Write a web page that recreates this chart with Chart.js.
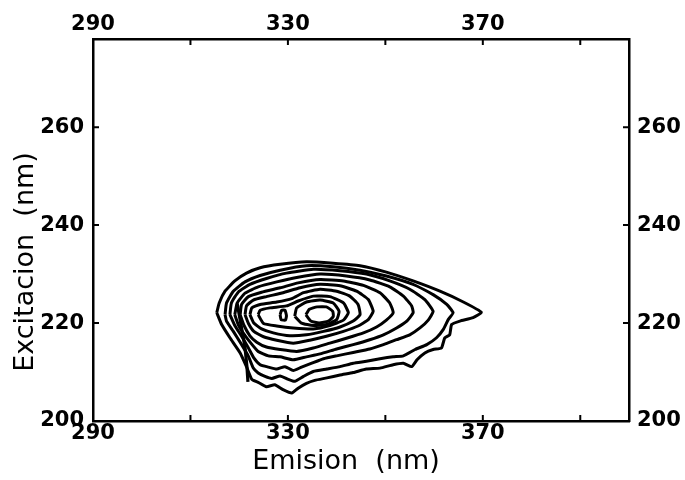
<!DOCTYPE html>
<html>
<head>
<meta charset="utf-8">
<script src="https://cdn.jsdelivr.net/npm/chart.js@4.4.0/dist/chart.umd.min.js"></script>
<style>
  html, body { margin: 0; padding: 0; background: #fff; }
  #wrap { width: 685px; height: 480px; }
</style>
</head>
<body>
<div id="wrap"><canvas id="chart" width="685" height="480"></canvas></div>
<script>
// ---- axes ----
const xTicks = [290, 310, 330, 350, 370, 390];
const xLabels = [290, 330, 370];
const yTicks = [200, 220, 240, 260];
const yLabels = [200, 220, 240, 260];
const xTitle = 'Emision  (nm)';
const yTitle = 'Excitacion  (nm)';

// ---- contour lines (emision, excitacion), outer to inner ----
const contour1 = [[315.4,222.1],[315.9,224.1],[317.1,226.5],[319.1,228.6],[321.5,230.2],[324.3,231.3],[328.4,232.0],[333.8,232.5],[339.3,232.2],[344.8,231.7],[350.2,230.4],[355.7,228.6],[361.2,226.5],[366.0,224.3],[369.7,222.2],[368.0,221.1],[365.3,220.4],[363.6,219.7],[363.2,217.6],[362.2,217.0],[361.5,214.9],[359.8,214.6],[358.1,213.9],[356.5,212.5],[355.4,211.1],[353.7,211.8],[351.6,211.5],[348.9,210.8],[346.1,210.6],[343.4,209.9],[340.7,209.4],[338.0,208.8],[335.5,208.3],[333.8,207.7],[332.1,206.7],[330.8,205.7],[329.0,206.4],[327.3,207.4],[325.6,207.0],[323.9,207.9],[322.6,208.5],[321.5,211.1],[320.2,213.9],[318.1,217.0],[316.4,219.7]];
const contour2 = [[317.1,221.7],[317.4,224.1],[318.8,226.5],[321.2,228.4],[324.3,229.7],[328.4,230.8],[333.8,231.7],[339.3,231.5],[344.8,230.8],[350.2,229.6],[355.7,227.9],[359.8,225.8],[362.6,223.8],[363.9,222.1],[362.9,220.7],[361.9,218.7],[360.5,217.0],[358.5,215.6],[356.1,214.6],[353.7,213.3],[351.6,213.1],[348.9,212.7],[346.1,212.2],[343.4,211.8],[340.7,211.1],[338.0,210.6],[335.2,210.1],[333.2,209.1],[331.4,208.1],[330.1,208.5],[328.4,209.2],[326.7,208.7],[325.3,209.1],[323.9,209.8],[322.9,210.8],[321.9,213.2],[320.5,215.6],[318.8,218.3],[317.4,220.4]];
const contour3 = [[318.1,221.7],[318.4,224.1],[319.8,226.3],[322.2,227.9],[325.6,229.1],[329.7,230.2],[335.2,231.0],[340.7,230.7],[346.1,230.0],[350.9,228.6],[355.0,226.9],[358.1,224.8],[359.8,222.4],[358.8,220.6],[357.1,219.0],[355.0,217.6],[352.3,216.6],[349.6,215.6],[346.8,214.7],[343.4,214.0],[340.0,213.3],[337.3,212.7],[334.9,211.8],[332.8,211.0],[331.1,210.3],[329.4,211.1],[327.7,210.6],[326.0,211.0],[324.3,211.5],[323.0,212.9],[321.9,214.9],[320.5,217.3],[319.1,219.5]];
const contour4 = [[319.1,221.7],[319.6,224.1],[321.2,226.1],[323.9,227.4],[327.7,228.4],[331.8,229.3],[336.6,230.0],[342.0,229.6],[346.8,228.8],[350.9,227.4],[353.7,225.5],[355.4,223.5],[355.7,222.1],[354.4,220.4],[352.3,219.0],[349.6,217.6],[346.8,216.6],[343.4,215.6],[340.0,214.7],[336.6,213.7],[333.8,213.1],[331.1,212.5],[328.4,213.1],[326.0,213.3],[323.9,214.2],[322.4,215.9],[320.8,218.0],[319.8,219.7]];
const contour5 = [[320.2,221.7],[320.5,223.8],[321.9,225.4],[324.6,226.3],[328.4,227.2],[332.1,228.2],[336.6,228.9],[341.4,228.6],[345.5,227.7],[348.9,226.2],[350.9,224.1],[351.6,222.1],[350.2,220.6],[348.2,219.2],[345.5,218.0],[342.0,216.9],[338.6,215.9],[335.2,214.9],[331.8,214.2],[328.4,214.6],[325.6,215.1],[323.6,216.1],[322.2,217.4],[321.0,219.5]];
const contour6 = [[321.2,221.7],[321.5,223.5],[322.9,224.7],[325.6,225.4],[329.0,226.2],[332.5,227.2],[336.6,227.9],[340.7,227.6],[344.1,226.5],[346.5,224.8],[347.5,222.4],[346.5,220.7],[344.4,219.4],[341.4,218.3],[337.9,217.3],[334.5,216.5],[331.1,215.9],[327.7,216.5],[325.0,217.2],[323.0,218.3],[321.9,219.9]];
const contour7 = [[322.2,221.7],[322.6,223.1],[324.3,223.8],[327.7,224.3],[330.8,225.0],[333.2,226.2],[336.6,226.9],[340.0,226.5],[342.7,225.5],[344.4,223.8],[344.8,221.7],[343.4,220.4],[340.7,219.2],[337.3,218.3],[333.8,217.6],[330.4,217.4],[327.0,218.0],[324.6,218.8],[323.0,220.0]];
const contour8 = [[323.9,221.7],[324.3,222.6],[326.3,223.1],[329.7,223.5],[332.1,224.5],[335.2,225.5],[338.6,225.4],[341.4,224.1],[342.4,222.1],[341.4,220.6],[338.6,219.5],[335.2,218.8],[331.1,219.0],[327.7,219.4],[325.0,219.9]];
const contour9 = [[331.4,221.4],[331.8,223.1],[333.8,224.3],[336.6,224.7],[339.3,224.1],[340.5,222.4],[340.0,220.7],[337.9,219.7],[335.2,219.5],[332.8,220.0]];
const contour10 = [[333.7,221.7],[334.4,222.8],[336.0,223.3],[337.9,223.3],[339.2,222.4],[339.3,221.3],[338.3,220.4],[336.4,220.0],[334.7,220.4]];
const blob = [[328.4,221.7],[328.7,222.6],[329.4,222.6],[329.7,221.5],[329.5,220.6],[328.6,220.7]];
const scatterLine = [[319.6,224.0],[320.4,219.5],[321.2,215.0],[321.6,211.0],[321.8,208.0]];

const closedContours = [contour1, contour2, contour3, contour4, contour5, contour6, contour7, contour8, contour9, contour10, blob];

function toPoints(arr, close) {
  const pts = arr.map(p => ({ x: p[0], y: p[1] }));
  if (close) pts.push({ x: arr[0][0], y: arr[0][1] });
  return pts;
}

const datasets = closedContours.map(c => ({
  data: toPoints(c, true),
  showLine: true,
  borderColor: '#000',
  borderWidth: 3,
  borderJoinStyle: 'round',
  pointRadius: 0,
  tension: 0.15,
  fill: false
}));
datasets.push({
  data: toPoints(scatterLine, false),
  showLine: true,
  borderColor: '#000',
  borderWidth: 3.2,
  pointRadius: 0,
  tension: 0,
  fill: false
});

const tickFont = { family: 'DejaVu Sans', size: 21, weight: 'bold' };

// inward tick marks + axis titles
const frameExtras = {
  id: 'frameExtras',
  afterDraw(chart) {
    const { ctx, chartArea: a, scales } = chart;
    ctx.save();
    ctx.strokeStyle = '#000';
    ctx.lineWidth = 2;
    xTicks.forEach(v => {
      const px = scales.x.getPixelForValue(v);
      ctx.beginPath();
      ctx.moveTo(px, a.bottom); ctx.lineTo(px, a.bottom - 6);
      ctx.moveTo(px, a.top); ctx.lineTo(px, a.top + 6);
      ctx.stroke();
    });
    yTicks.forEach(v => {
      const py = scales.y.getPixelForValue(v);
      ctx.beginPath();
      ctx.moveTo(a.left, py); ctx.lineTo(a.left + 6, py);
      ctx.moveTo(a.right, py); ctx.lineTo(a.right - 6, py);
      ctx.stroke();
    });

    ctx.fillStyle = '#000';
    ctx.font = '27px "DejaVu Sans"';
    ctx.textAlign = 'center';
    ctx.textBaseline = 'alphabetic';
    ctx.fillText(xTitle, 346, 469);
    ctx.translate(33, 262);
    ctx.rotate(-Math.PI / 2);
    ctx.fillText(yTitle, 0, 0);
    ctx.restore();
  }
};

function setTicks(list) {
  return function(scale) { scale.ticks = list.map(v => ({ value: v })); };
}

new Chart(document.getElementById('chart'), {
  type: 'scatter',
  data: { datasets: datasets },
  options: {
    responsive: false,
    animation: false,
    events: [],
    layout: { padding: 0 },
    plugins: { legend: { display: false }, tooltip: { enabled: false } },
    scales: {
      x: {
        type: 'linear', position: 'bottom', min: 290, max: 400,
        afterBuildTicks: setTicks(xTicks),
        afterFit: s => { s.height = 59; },
        grid: { display: false, drawTicks: false },
        border: { display: true, color: '#000', width: 2.5 },
        ticks: { color: '#000', font: tickFont, padding: 0, maxRotation: 0,
          callback: v => xLabels.includes(v) ? String(v) : '' }
      },
      x2: {
        type: 'linear', position: 'top', min: 290, max: 400,
        afterBuildTicks: setTicks(xTicks),
        afterFit: s => { s.height = 39; },
        grid: { display: false, drawTicks: false },
        border: { display: true, color: '#000', width: 2.5 },
        ticks: { color: '#000', font: tickFont, padding: 2, maxRotation: 0,
          callback: v => xLabels.includes(v) ? String(v) : '' }
      },
      y: {
        type: 'linear', position: 'left', min: 200, max: 278,
        afterBuildTicks: setTicks(yTicks),
        afterFit: s => { s.width = 93; },
        grid: { display: false, drawTicks: false },
        border: { display: true, color: '#000', width: 2.5 },
        ticks: { color: '#000', font: tickFont, padding: 9,
          callback: v => yLabels.includes(v) ? String(v) : '' }
      },
      y2: {
        type: 'linear', position: 'right', min: 200, max: 278,
        afterBuildTicks: setTicks(yTicks),
        afterFit: s => { s.width = 56; },
        grid: { display: false, drawTicks: false },
        border: { display: true, color: '#000', width: 2.5 },
        ticks: { color: '#000', font: tickFont, padding: 8,
          callback: v => yLabels.includes(v) ? String(v) : '' }
      }
    }
  },
  plugins: [frameExtras]
});
</script>
</body>
</html>
